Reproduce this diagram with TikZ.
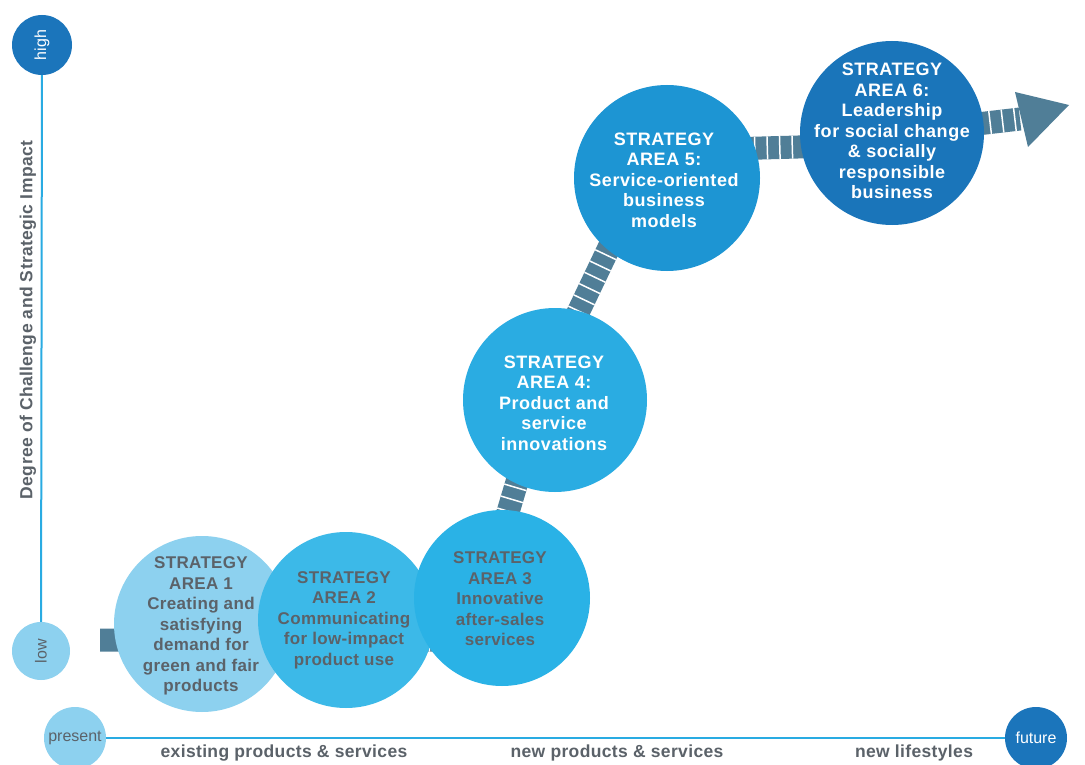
\documentclass[tikz,border=0pt]{standalone}
\usepackage{fontspec}
\setmainfont{Liberation Sans}
\definecolor{axisline}{HTML}{29ABE2}
\definecolor{dkblue}{HTML}{1B75BB}
\definecolor{ltblue}{HTML}{8DD1EF}
\definecolor{cA}{HTML}{8DD1EF}
\definecolor{cB}{HTML}{3CB9E8}
\definecolor{cC}{HTML}{2AB2E6}
\definecolor{cD}{HTML}{2AACE2}
\definecolor{cE}{HTML}{1D95D3}
\definecolor{cF}{HTML}{1A75BA}
\definecolor{bandcol}{HTML}{507E97}
\definecolor{txtgray}{HTML}{5B6269}
\newcommand\fontAreaG{\fontsize{17}{20.5}\selectfont\bfseries\addfontfeatures{LetterSpace=2}}
\newcommand\fontAreaW{\fontsize{18}{20.5}\selectfont\bfseries\addfontfeatures{LetterSpace=3}}
\newcommand\fontAxisLab{\fontsize{17.5}{20}\selectfont\bfseries\addfontfeatures{LetterSpace=2}}
\newcommand\fontEndLab{\fontsize{16}{18}\selectfont}
\begin{document}
\begin{tikzpicture}[x=1pt,y=-1pt,
  disc/.style={circle, inner sep=0pt, draw=none},
  areatxtG/.style={align=center, inner sep=0pt, text=txtgray, font=\fontAreaG},
  areatxtW/.style={align=center, inner sep=0pt, text=white, font=\fontAreaW},
  axisln/.style={draw=axisline, line width=2pt},
  axislab/.style={text=txtgray, font=\fontAxisLab, inner sep=0pt},
  endlab/.style={font=\fontEndLab, inner sep=0pt}]
\useasboundingbox (0,0) rectangle (1085,765);
\fill[white] (0,0) rectangle (1085,765);

% axes
\node[disc, fill=dkblue, minimum size=60pt] (high) at (42,45) {};
\node[disc, fill=ltblue, minimum size=58pt] (low) at (41,651) {};
\node[disc, fill=ltblue, minimum size=62pt] (present) at (75,738) {};
\node[disc, fill=dkblue, minimum size=62pt] (future) at (1036,738) {};
\draw[axisln] (high) -- (low);
\draw[axisln] (present) -- (future);
\node[endlab, rotate=90, text=white] (highlab) at (high) {high};
\node[endlab, rotate=90, text=txtgray] (lowlab) at (low) {low};
\node[endlab, text=txtgray] (presentlab) at (present) {present};
\node[endlab, text=white] (futurelab) at (future) {future};
\node[axislab, rotate=90] (ylab) at (28,320) {Degree of Challenge and Strategic Impact};
\node[axislab] (xlab1) at (284,753) {existing products \& services};
\node[axislab] (xlab2) at (617,753) {new products \& services};
\node[axislab] (xlab3) at (914,753) {new lifestyles};

% band with arrow
\coordinate (b0) at (100,640);
\coordinate (bs) at (122,640);
\coordinate (b1) at (470,640);
\coordinate (b2) at (525,455);
\coordinate (b3) at (565,340);
\coordinate (b4) at (615,235);
\coordinate (b5) at (690,150);
\coordinate (b6) at (870,145);
\coordinate (b7) at (960,126);
\coordinate (b8) at (1020,119);
\coordinate (h1) at (1015,92);
\coordinate (h2) at (1069,105);
\coordinate (h3) at (1028,147);
\draw[bandcol, line width=23pt, line join=round] (b0) -- (b1) -- (b2) -- (b3) -- (b4) -- (b5) -- (b6) -- (b7) -- (b8);
\draw[white, line width=23pt, dash pattern=on 1.5pt off 11pt, dash phase=6pt] (bs) -- (b1) -- (b2) -- (b3) -- (b4) -- (b5) -- (b6) -- (b7) -- (b8);
\fill[bandcol] (h1) -- (h2) -- (h3) -- cycle;

% strategy areas
\node[disc, fill=cA, minimum size=176pt] (a1) at (202,624) {};
\node[disc, fill=cB, minimum size=176pt] (a2) at (346,620) {};
\node[disc, fill=cC, minimum size=176pt] (a3) at (502,598) {};
\node[disc, fill=cD, minimum size=184pt] (a4) at (555,400) {};
\node[disc, fill=cE, minimum size=186pt] (a5) at (667,178) {};
\node[disc, fill=cF, minimum size=184pt] (a6) at (892,133) {};

\node[areatxtG] (t1) at (201,626) {STRATEGY\\AREA 1\\Creating and\\satisfying\\demand for\\green and fair\\products};
\node[areatxtG] (t2) at (344,620) {STRATEGY\\AREA 2\\Communicating\\for low-impact\\product use};
\node[areatxtG] (t3) at (500,599) {STRATEGY\\AREA 3\\Innovative\\after-sales\\services};
\node[areatxtW] (t4) at (554,403) {STRATEGY\\AREA 4:\\Product and\\service\\innovations};
\node[areatxtW] (t5) at (664,180) {STRATEGY\\AREA 5:\\Service-oriented\\business\\models};
\node[areatxtW] (t6) at (892,131) {STRATEGY\\AREA 6:\\Leadership\\for social change\\\& socially\\responsible\\business};
\end{tikzpicture}
\end{document}
